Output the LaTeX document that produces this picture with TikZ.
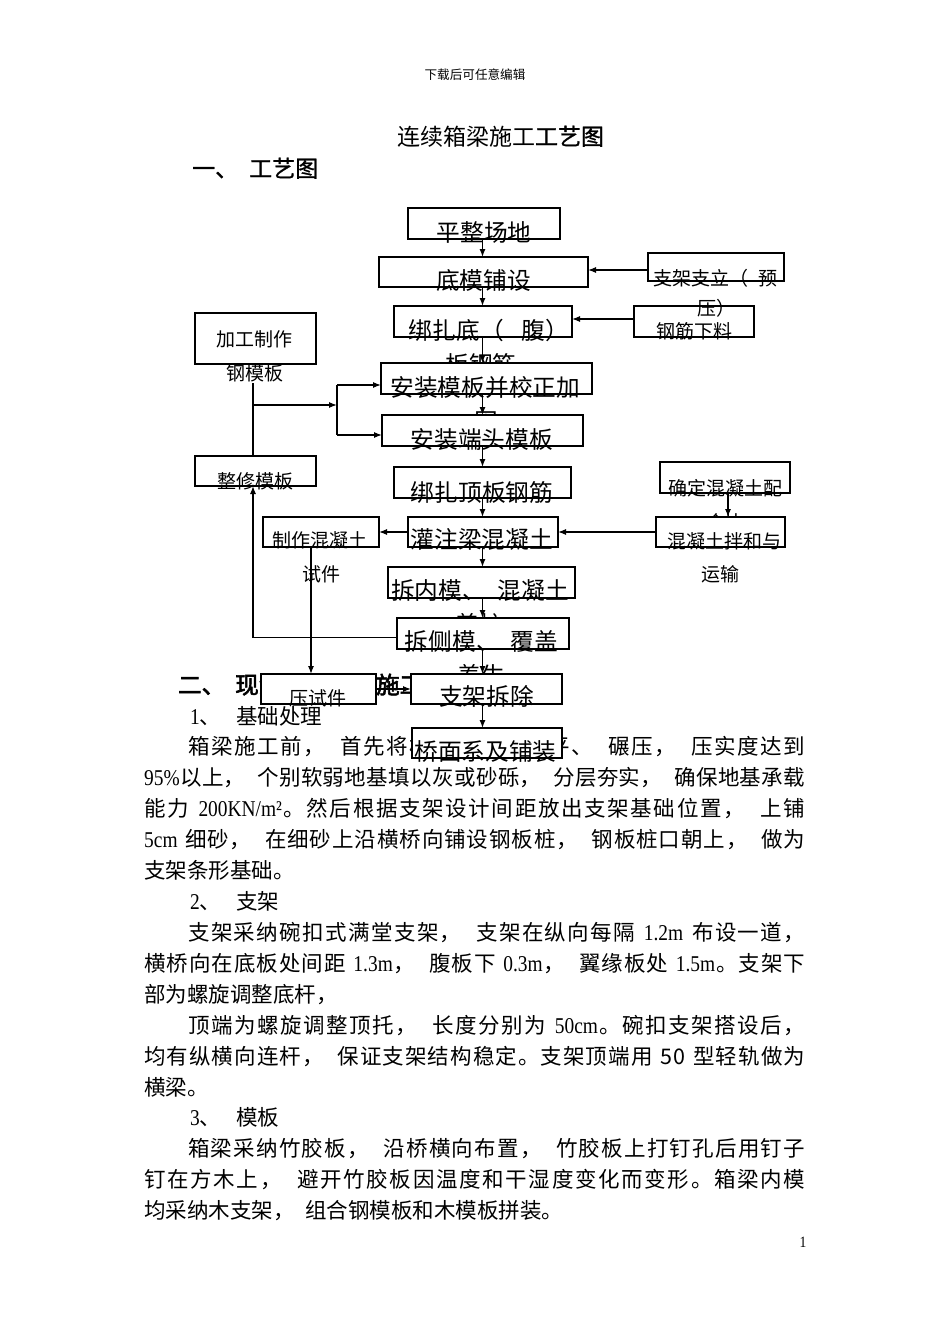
\documentclass[tikz,border=0pt]{standalone}
\usepackage{fontspec}
\setmainfont{Noto Sans CJK SC}
\newfontfamily\lat{Liberation Serif}[Scale=1.05, FakeStretch=0.86]
\newfontfamily\semib{Noto Sans CJK SC}[FakeBold=1.2]
\newfontfamily\boldcjk{Noto Sans CJK SC}[FakeBold=2.5]
\usetikzlibrary{arrows.meta}
\newcommand\csp{\hskip 0.5em plus 1pt minus 0.5pt}
\newcommand\nsp{\hskip 0.22em plus 1pt}
\ExplSyntaxOn
\NewDocumentCommand \jline { m m }
  { \hbox_to_wd:nn {#1} { \tl_map_inline:nn {#2} { {##1} \skip_horizontal:n {0pt plus 1pt minus 0.3pt} } \unskip } }
\ExplSyntaxOff
\newcommand\bx[5]{\node[box, minimum width={#4-#2}, minimum height={#5-#3}] (#1) at ({(#2+#4)/2},{(#3+#5)/2}) {};}
\tikzset{
  box/.style={draw, fill=white, line width=1.2pt, inner sep=0pt, outer sep=0pt},
  ctext/.style={anchor=base, inner sep=0pt, font=\fontsize{23.7}{28}\selectfont},
  stext/.style={anchor=base, inner sep=0pt, font=\fontsize{19}{23}\selectfont},
  body/.style={anchor=base west, inner sep=0pt, font=\fontsize{21.5}{26}\selectfont},
  conn/.style={line width=1.2pt},
  arr/.style={conn, -{Latex[length=8pt,width=6pt]}},
}
\begin{document}
\begin{tikzpicture}[x=1pt,y=-1pt]
\fill[white] (0,0) rectangle (950,1344);
\path[use as bounding box] (0,0) rectangle (950,1344);

% header, title, headings
\node[anchor=base, inner sep=0pt, font=\fontsize{12.6}{15}\selectfont] (hdr) at (475,79.5) {下载后可任意编辑};
\node[anchor=base, inner sep=0pt, font=\fontsize{23}{28}\selectfont] (title) at (500.5,145) {连续箱梁施工{\semib 工艺图}};
\node[anchor=base west, inner sep=0pt, font=\fontsize{23}{28}\semib] (h1a) at (192,177) {一、};
\node[anchor=base west, inner sep=0pt, font=\fontsize{23}{28}\semib] (h1b) at (249,177) {工艺图};
\node[anchor=base west, inner sep=0pt, font=\fontsize{23.5}{28}\boldcjk] (h2a) at (178,693.5) {二、};
\node[anchor=base west, inner sep=0pt, font=\fontsize{23.5}{28}\boldcjk] (h2b) at (235,693.5) {现浇连续箱梁施工工艺};

% body text
\node[body] (s1n) at (190,724.5) {{\lat 1}、};
\node[body] (s1t) at (236,724.5) {基础处理};
\node[body] (b1) at (188,754) {\jline{617pt}{箱梁施工前，\csp 首先将桥位处地基整平、\csp 碾压，\csp 压实度达到}};
\node[body] (b2) at (144,785) {\jline{661pt}{{\lat 95\%}以上，\csp 个别软弱地基填以灰或砂砾，\csp 分层夯实，\csp 确保地基承载}};
\node[body] (b3) at (144,816) {\jline{661pt}{能力\nsp{\lat 200KN/m²}。然后根据支架设计间距放出支架基础位置，\csp 上铺}};
\node[body] (b4) at (144,847) {\jline{661pt}{{\lat 5cm}\nsp 细砂，\csp 在细砂上沿横桥向铺设钢板桩，\csp 钢板桩口朝上，\csp 做为}};
\node[body] (b5) at (144,878) {支架条形基础。};
\node[body] (s2n) at (190,909) {{\lat 2}、};
\node[body] (s2t) at (236,909) {支架};
\node[body] (b6) at (188,940) {\jline{617pt}{支架采纳碗扣式满堂支架，\csp 支架在纵向每隔\nsp{\lat 1.2m}\nsp 布设一道，}};
\node[body] (b7) at (144,971) {\jline{661pt}{横桥向在底板处间距\nsp{\lat 1.3m}，\csp 腹板下\nsp{\lat 0.3m}，\csp 翼缘板处\nsp{\lat 1.5m}。支架下}};
\node[body] (b8) at (144,1002) {部为螺旋调整底杆，};
\node[body] (b9) at (188,1033) {\jline{617pt}{顶端为螺旋调整顶托，\csp 长度分别为\nsp{\lat 50cm}。碗扣支架搭设后，}};
\node[body] (b10) at (144,1064) {\jline{661pt}{均有纵横向连杆，\csp 保证支架结构稳定。支架顶端用\nsp 50\nsp 型轻轨做为}};
\node[body] (b11) at (144,1095) {横梁。};
\node[body] (s3n) at (190,1125.5) {{\lat 3}、};
\node[body] (s3t) at (236,1125.5) {模板};
\node[body] (b12) at (188,1156) {\jline{617pt}{箱梁采纳竹胶板，\csp 沿桥横向布置，\csp 竹胶板上打钉孔后用钉子}};
\node[body] (b13) at (144,1187) {\jline{661pt}{钉在方木上，\csp 避开竹胶板因温度和干湿度变化而变形。箱梁内模}};
\node[body] (b14) at (144,1218) {均采纳木支架，\csp 组合钢模板和木模板拼装。};
\node[anchor=base, inner sep=0pt, font=\fontsize{15}{17}\lat] (pg) at (803,1247.5) {1};

% central column
\bx{pz}{408}{208}{560}{239}
\node[ctext] (pzt) at (484,241) {平整场地};
\bx{dm}{379}{257}{588}{287}
\node[ctext] (dmt) at (483.5,289.5) {底模铺设};
\bx{bzd}{394}{306}{572}{337}
\node[ctext] (bzdt) at (489,339.5) {绑扎底（\hspace{18pt}腹）};
\node[ctext] (bzdt2) at (481,373) {板钢筋};
\bx{az}{381}{363}{592}{394}
\node[ctext] (azt) at (485.3,396.5) {安装模板并校正加};
\node[ctext] (azt2) at (486,430) {固};
\bx{dt}{382}{415}{583}{446}
\node[ctext] (dtt) at (481.7,448) {安装端头模板};
\bx{bd}{394}{467}{571}{498}
\node[ctext] (bdt) at (482,501) {绑扎顶板钢筋};
\bx{gz}{408}{517}{558}{547}
\node[ctext] (gzt) at (481.7,548.5) {灌注梁混凝土};
\bx{cn}{388}{567}{575}{598}
\node[ctext] (cnt) at (480,599.5) {拆内模、\hspace{12pt}混凝土};
\node[ctext] (cnt2) at (479,633.5) {养护};
\bx{cc}{397}{618}{569}{649}
\node[ctext] (cct) at (481.5,650) {拆侧模、\hspace{11pt}覆盖};
\node[ctext] (cct2) at (481,684) {养生};
\bx{zc}{411}{674}{562}{704}
\node[ctext] (zct) at (486.5,705.5) {支架拆除};
\bx{qm}{412}{728}{562}{758}
\node[ctext] (qmt) at (485.5,760) {桥面系及铺装};

% left column
\bx{jg}{195}{313}{316}{364}
\node[stext] (jgt) at (254.2,346.5) {加工制作};
\node[stext] (jgt2) at (255,380.5) {钢模板};
\bx{zx}{195}{456}{316}{486}
\node[stext] (zxt) at (255.3,488.5) {整修模板};
\bx{zz}{263}{517}{379}{547}
\node[stext] (zzt) at (320,547.5) {制作混凝土};
\node[stext] (zzt2) at (321.5,581.5) {试件};
\bx{yy}{261}{674}{376}{704}
\node[stext] (yyt) at (317.5,705.5) {压试件};

% right column
\bx{gj}{634}{306}{754}{337}
\node[stext] (gjt) at (694.2,338.5) {钢筋下料};
\bx{zj}{648}{253}{784}{281}
\node[stext] (zjt) at (715.5,285) {支架支立（\hspace{10pt}预};
\node[stext] (zjt2) at (716,315) {压）};
\bx{qd}{660}{462}{790}{493}
\node[stext] (qdt) at (725,495) {确定混凝土配};
\node[stext] (qdt2) at (725,529) {合比};
\bx{hn}{656}{517}{785}{547}
\node[stext] (hnt) at (724,548.5) {混凝土拌和与};
\node[stext] (hnt2) at (720.8,581.8) {运输};

% connectors
\coordinate (cx) at (482.5,0);
\foreach \a/\b in {pz/dm, dm/bzd, bzd/az, az/dt, dt/bd, bd/gz, gz/cn, cn/cc, cc/zc, zc/qm}
  \draw[arr] (\a.south -| cx) -- (\b.north -| cx);
\draw[arr] ([yshift=-3pt]zj.west) -- ([yshift=-3pt]zj.west -| dm.east);
\draw[arr] ([yshift=2.5pt]gj.west) -- ([yshift=2.5pt]gj.west -| bzd.east);
\coordinate (jgb) at (253,383);
\coordinate (br) at (337,405);
\coordinate (br1) at (337,385);
\coordinate (br2) at (337,435);
\draw[conn] (jgb) -- (jgb |- zx.north);
\draw[arr] (jgb |- br) -- (br);
\draw[conn] (br1) -- (br2);
\draw[arr] (br1) -- (br1 -| az.west);
\draw[arr] (br2) -- (br2 -| dt.west);
\draw[arr] ([xshift=3pt]qd.south) -- ([xshift=3pt]qd.south |- hn.north);
\draw[arr] (hn.west) -- (hn.west -| gz.east);
\draw[arr] (gz.west) -- (gz.west -| zz.east);
\draw[arr] ([xshift=-10pt]zz.south) -- ([xshift=-10pt]zz.south |- yy.north);
\draw[arr] ([yshift=-4pt]cc.west) -| (jgb |- zx.south);
\draw[arr] (yy.east) -- (yy.east -| zc.west);
\end{tikzpicture}
\end{document}
